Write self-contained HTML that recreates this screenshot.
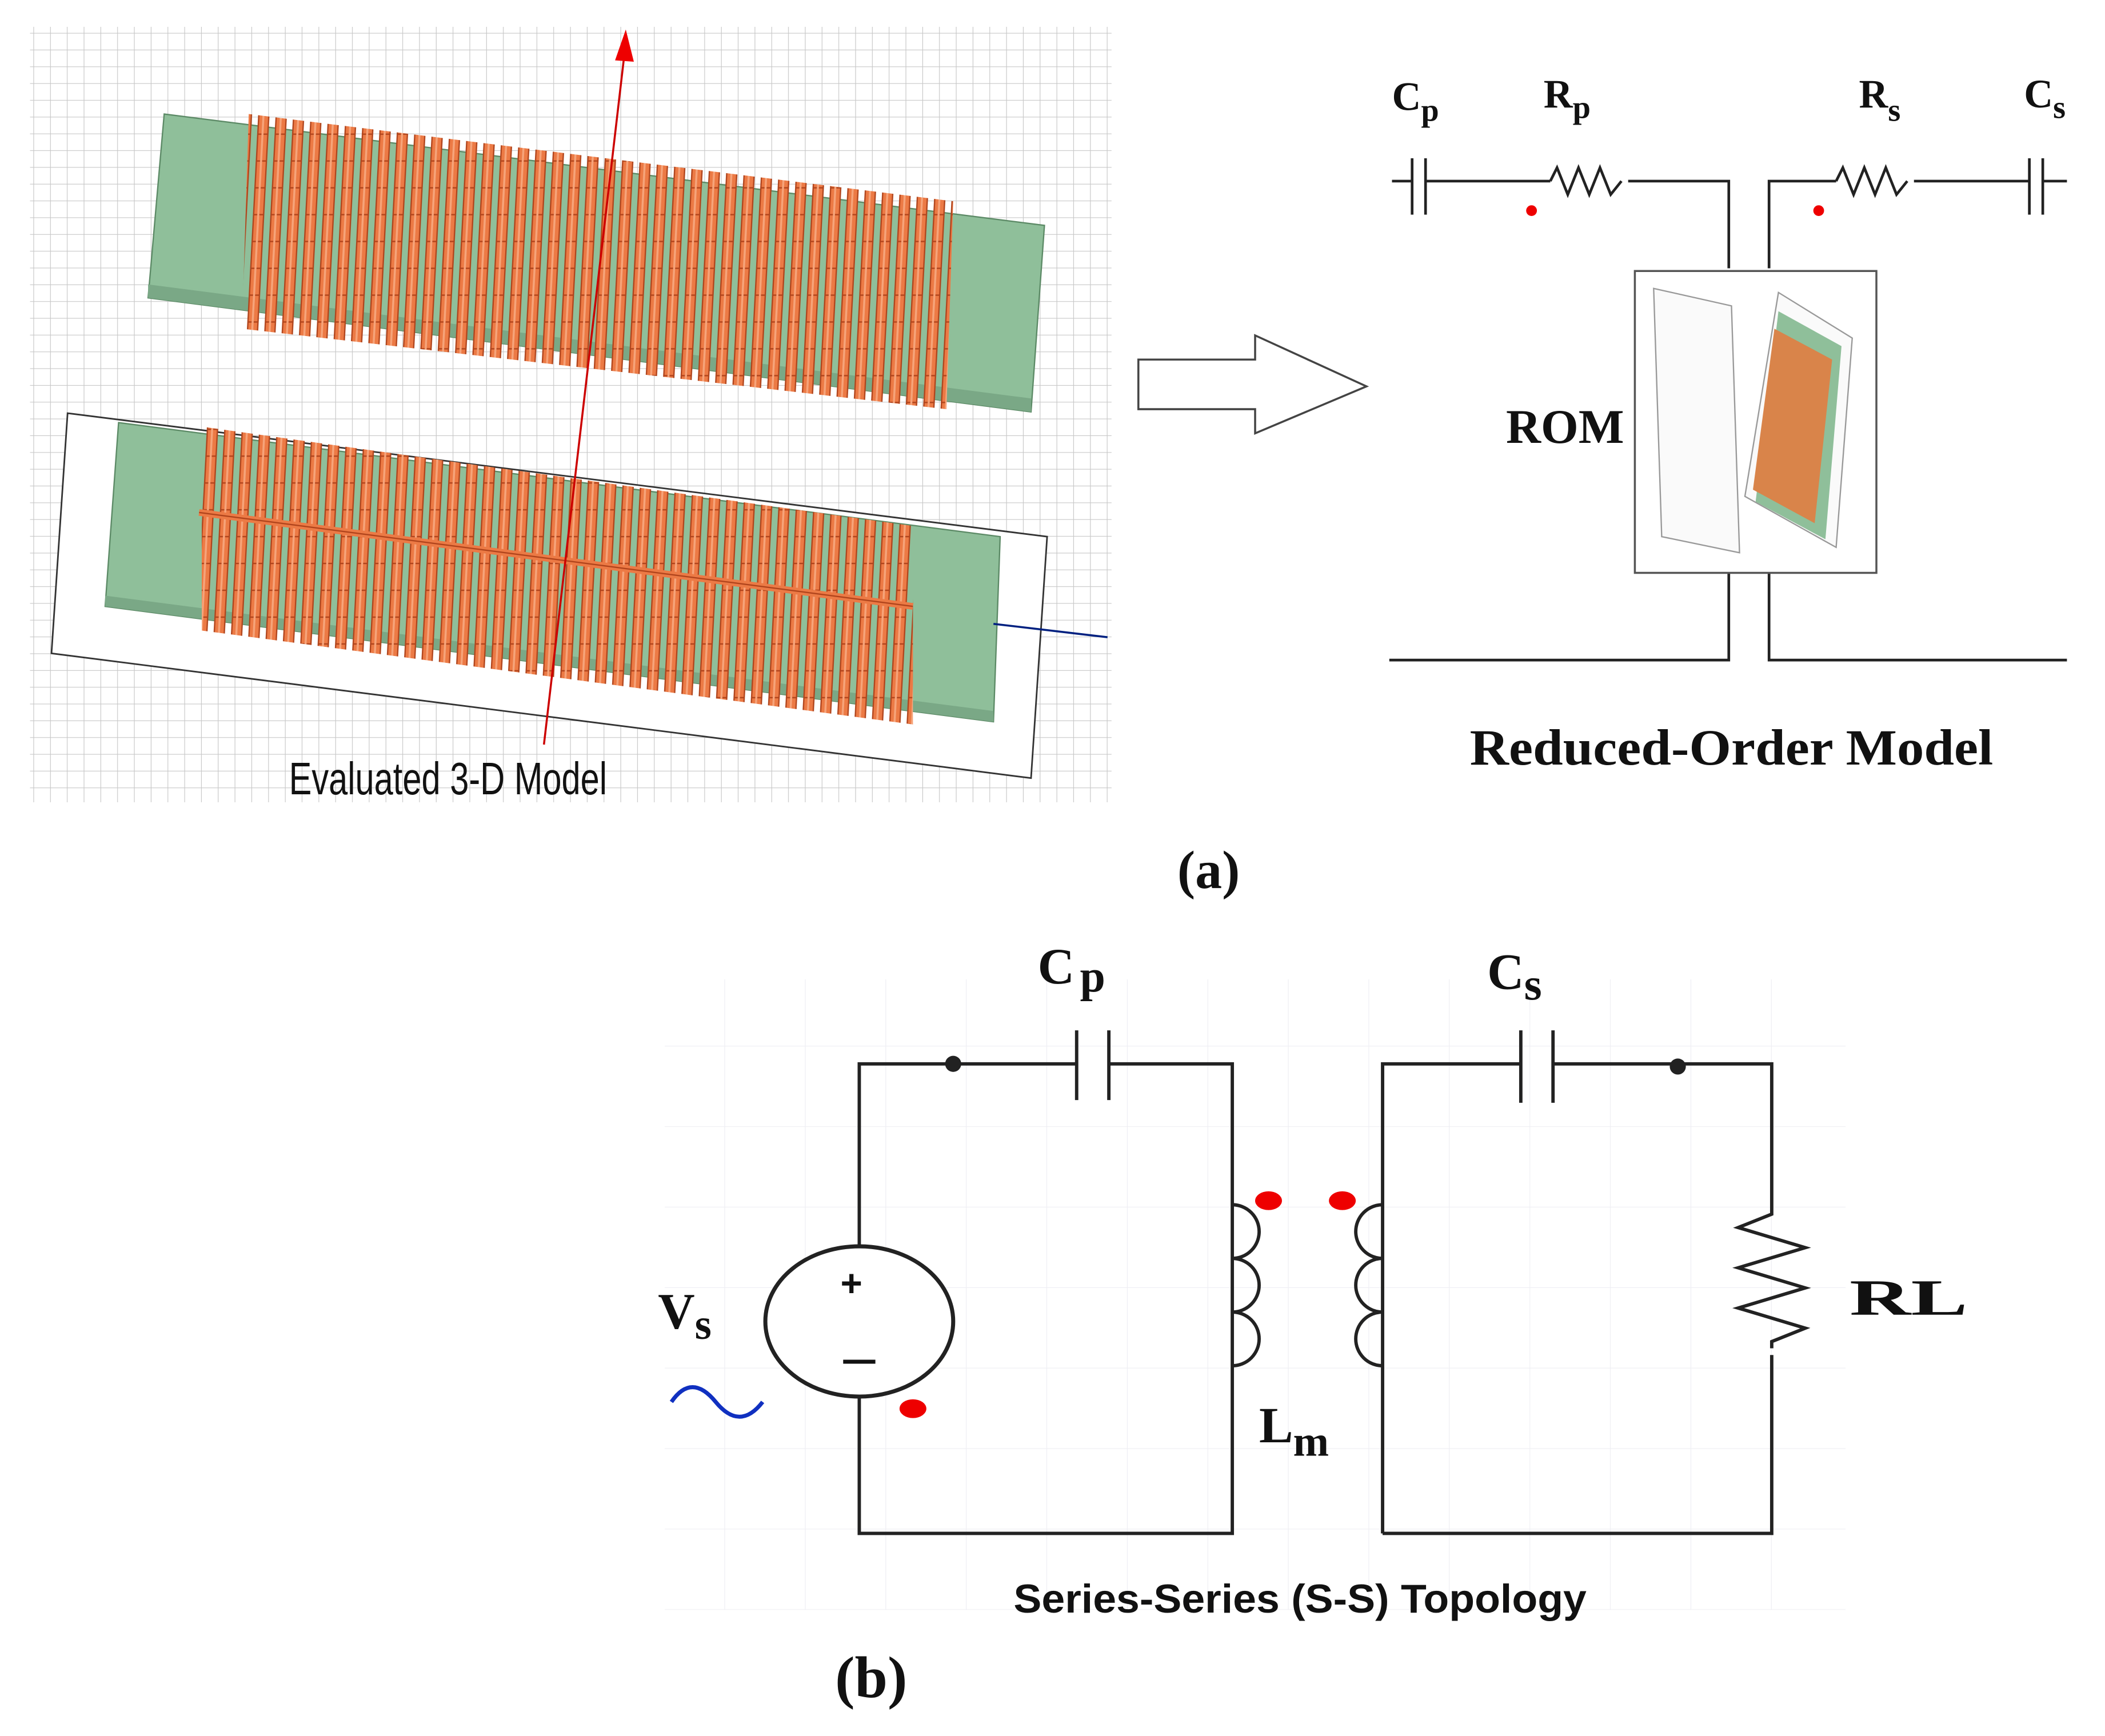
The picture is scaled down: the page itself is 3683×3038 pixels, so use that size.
<!DOCTYPE html>
<html><head><meta charset="utf-8"><style>
html,body{margin:0;padding:0;background:#fff;}
svg{display:block;}
</style></head><body>
<svg width="3683" height="3038" viewBox="0 0 1568 1294" xmlns="http://www.w3.org/2000/svg">
<defs>
<pattern id="grid" width="12.5" height="12.5" patternUnits="userSpaceOnUse">
<path d="M12.5 0V12.5M0 12.5H12.5" stroke="#c8c8c8" stroke-width="1" fill="none"/>
</pattern>
<pattern id="grid2" width="60" height="60" patternUnits="userSpaceOnUse">
<path d="M60 0V60M0 60H60" stroke="#eeeef3" stroke-width="1" fill="none"/>
</pattern>
<pattern id="coil" width="13" height="20" patternUnits="userSpaceOnUse" patternTransform="skewX(-3)">
<rect x="2" y="0" width="7.5" height="20" fill="#ec7a45" stroke="#b0441c" stroke-width="1"/>
<line x1="5.5" y1="0" x2="5.5" y2="20" stroke="#f6a47a" stroke-width="1.5"/>
</pattern>
</defs>
<rect x="22" y="20" width="806" height="578" fill="url(#grid)"/>
<polygon points="122,85 778,168 768,307 110,222" fill="#8fbf9a" stroke="#5c8a66" stroke-width="1"/>
<polygon points="110,212 768,297 768,307 110,222" fill="#7aa886"/>
<polygon points="185,85 710,150 705,305 180,245" fill="url(#coil)"/>
<polygon points="50,308 780,400 768,580 38,487" fill="#fff" stroke="#333" stroke-width="1.2"/>
<polygon points="88,315 745,400 740,538 78,452" fill="#8fbf9a" stroke="#5c8a66" stroke-width="1"/>
<polygon points="78,444 740,530 740,538 78,452" fill="#7aa886"/>
<polygon points="150,318 680,392 680,540 150,470" fill="url(#coil)"/>
<line x1="148" y1="382" x2="680" y2="452" stroke="#ec7a45" stroke-width="5"/>
<line x1="148" y1="382" x2="680" y2="452" stroke="#b0441c" stroke-width="1"/>
<line x1="465" y1="40" x2="405" y2="555" stroke="#c00" stroke-width="1.5"/>
<polygon points="466,22 458,45 472,46" fill="#e00"/>
<line x1="740" y1="465" x2="825" y2="475" stroke="#002080" stroke-width="1.5"/>
<text x="215" y="592" font-family="Liberation Sans Narrow, Liberation Sans, sans-serif" font-size="34" textLength="237" lengthAdjust="spacingAndGlyphs" fill="#111">Evaluated 3-D Model</text>
<polygon points="848,268 935,268 935,250 1018,288 935,323 935,305 848,305" fill="#fff" stroke="#444" stroke-width="1.5"/>
<g stroke="#222" stroke-width="2" fill="none">
<path d="M1037,135 H1052 M1062,135 H1155 M1213,135 H1288 V200"/>
<path d="M1052,118 V160 M1062,118 V160"/>
<path d="M1155,135 l5,-10 l8,20 l8,-20 l8,20 l8,-20 l8,20 l8,-10"/>
<path d="M1318,200 V135 H1368 M1426,135 H1512 M1522,135 H1540"/>
<path d="M1512,118 V160 M1522,118 V160"/>
<path d="M1368,135 l5,-10 l8,20 l8,-20 l8,20 l8,-20 l8,20 l8,-10"/>
<path d="M1288,427 V492 H1035 M1318,427 V492 H1540"/>
</g>
<rect x="1218" y="202" width="180" height="225" fill="#fff" stroke="#555" stroke-width="1.5"/>
<polygon points="1232,215 1290,228 1296,412 1238,400" fill="#fafafa" stroke="#999" stroke-width="1"/>
<polygon points="1325,218 1380,252 1368,408 1300,370" fill="#fafafa" stroke="#999" stroke-width="1"/>
<polygon points="1325,232 1372,258 1360,402 1308,374" fill="#8fbf9a"/>
<polygon points="1322,245 1365,268 1352,390 1306,365" fill="#d9844a"/>
<circle cx="1141" cy="157" r="4" fill="#e00"/>
<circle cx="1355" cy="157" r="4" fill="#e00"/>
<g font-family="Liberation Serif, serif" font-weight="bold" fill="#111">
<text x="1037" y="82" font-size="30">C<tspan font-size="24" dy="8">p</tspan></text>
<text x="1150" y="80" font-size="30">R<tspan font-size="24" dy="8">p</tspan></text>
<text x="1385" y="80" font-size="30">R<tspan font-size="24" dy="10">s</tspan></text>
<text x="1508" y="80" font-size="30">C<tspan font-size="24" dy="8">s</tspan></text>
<text x="1122" y="330" font-size="36">ROM</text>
<text x="1095" y="570" font-size="38" textLength="390" lengthAdjust="spacingAndGlyphs">Reduced-Order Model</text>
<text x="877" y="662" font-size="40">(a)</text>
</g>
<rect x="495" y="730" width="880" height="470" fill="url(#grid2)"/>
<g stroke="#222" stroke-width="2.5" fill="none">
<path d="M640,930 V793 H802 M826,793 H918 V1143 H640 V1040"/>
<path d="M802,768 V820 M826,768 V820"/>
<path d="M1030,1143 V793 H1133 M1157,793 H1320 V890 M1320,1010 V1143 H1030"/>
<path d="M1133,768 V822 M1157,768 V822"/>
<path d="M1320,890 v15 l-25,10 l50,15 l-50,15 l50,15 l-50,15 l50,15 l-25,10 v5"/>
<path d="M918,898 a20,20 0 0 1 0,40 a20,20 0 0 1 0,40 a20,20 0 0 1 0,40"/>
<path d="M1030,898 a20,20 0 0 0 0,40 a20,20 0 0 0 0,40 a20,20 0 0 0 0,40"/>
</g>
<ellipse cx="640" cy="985" rx="70" ry="56" fill="#fff" stroke="#222" stroke-width="3"/>
<text x="626" y="966" font-family="Liberation Sans, sans-serif" font-size="28" font-weight="bold" fill="#111">+</text>
<line x1="628" y1="1015" x2="652" y2="1015" stroke="#111" stroke-width="3"/>
<circle cx="710" cy="793" r="6" fill="#222"/>
<circle cx="1250" cy="795" r="6" fill="#222"/>
<ellipse cx="945" cy="895" rx="10" ry="7" fill="#e00"/>
<ellipse cx="1000" cy="895" rx="10" ry="7" fill="#e00"/>
<ellipse cx="680" cy="1050" rx="10" ry="7" fill="#e00"/>
<path d="M500,1045 q15,-22 33,0 q18,22 35,0" stroke="#1030c0" stroke-width="3" fill="none"/>
<g font-family="Liberation Serif, serif" font-weight="bold" fill="#111">
<text x="773" y="733" font-size="38">C<tspan font-size="34" dx="4" dy="6">p</tspan></text>
<text x="1108" y="737" font-size="38">C<tspan font-size="34" dy="8">s</tspan></text>
<text x="490" y="990" font-size="38">V<tspan font-size="32" dy="8">s</tspan></text>
<text x="1378" y="980" font-size="38" textLength="88" lengthAdjust="spacingAndGlyphs">RL</text>
<text x="938" y="1075" font-size="38">L<tspan font-size="32" dy="10">m</tspan></text>
<text x="755" y="1202" font-size="30" font-family="Liberation Sans, sans-serif" textLength="427" lengthAdjust="spacingAndGlyphs">Series-Series (S-S) Topology</text>
<text x="622" y="1265" font-size="44">(b)</text>
</g>
</svg>
</body></html>
